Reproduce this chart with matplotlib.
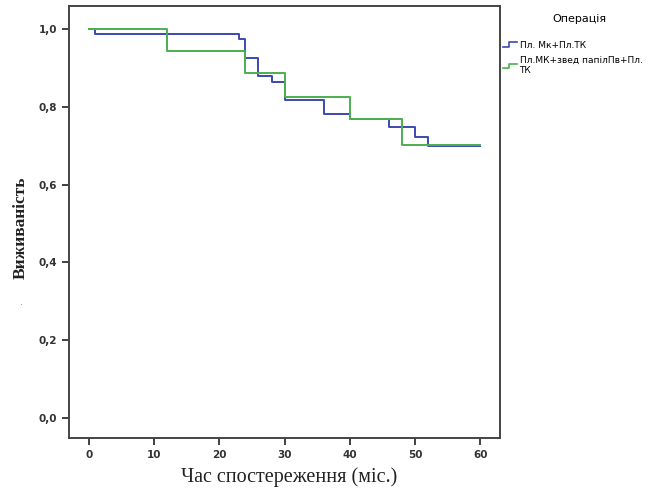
import numpy as np
import matplotlib.pyplot as plt
from matplotlib.ticker import FuncFormatter
from matplotlib.legend_handler import HandlerBase
from matplotlib.lines import Line2D

# survival curves (Kaplan-Meier steps)
blue_t = [0, 1, 23, 24, 26, 28, 30, 36, 40, 46, 50, 52, 60]
blue_s = [1.0, 0.988, 0.974, 0.927, 0.879, 0.865, 0.817, 0.781, 0.769, 0.749, 0.723, 0.699, 0.699]
green_t = [0, 12, 24, 30, 40, 48, 60]
green_s = [1.0, 0.945, 0.888, 0.826, 0.769, 0.702, 0.702]

labels = ['Пл. Мк+Пл.ТК', 'Пл.МК+звед папілПв+Пл.\nТК']
x_ticks = [0, 10, 20, 30, 40, 50, 60]
y_ticks = [0.0, 0.2, 0.4, 0.6, 0.8, 1.0]

BLUE = '#3a4aae'
GREEN = '#4caf50'


class StepHandler(HandlerBase):
    # SPSS-like little step icon in the legend
    def create_artists(self, legend, orig, xd, yd, w, h, fontsize, trans):
        xs = [xd, xd + w * 0.45, xd + w * 0.45, xd + w]
        ys = [yd + h * 0.1, yd + h * 0.1, yd + h * 0.8, yd + h * 0.8]
        ln = Line2D(xs, ys, color=orig.get_color(), lw=1.2, transform=trans)
        return [ln]


fig = plt.figure(figsize=(6.58, 4.92), dpi=100)
ax = fig.add_axes([0.105, 0.110, 0.655, 0.878])

l1, = ax.plot(blue_t, blue_s, drawstyle='steps-post', color=BLUE, lw=1.4, label=labels[0])
l2, = ax.plot(green_t, green_s, drawstyle='steps-post', color=GREEN, lw=1.4, label=labels[1])

ax.set_xlim(-3, 63)
ax.set_ylim(-0.052, 1.06)
ax.set_xticks(x_ticks)
ax.set_yticks(y_ticks)
ax.yaxis.set_major_formatter(FuncFormatter(lambda v, p: f'{v:.1f}'.replace('.', ',')))
ax.tick_params(direction='out', length=5, width=1.3, color='#333333',
               labelsize=7.5, labelcolor='#333333')
for lab in ax.get_xticklabels() + ax.get_yticklabels():
    lab.set_fontweight('bold')
for s in ax.spines.values():
    s.set_linewidth(1.4)
    s.set_color('#444444')

fig.text(0.031, 0.537, 'Виживаність', rotation=90, ha='center', va='center',
         family='Liberation Serif', fontsize=12.5, fontweight='bold', color='#222222')
fig.text(0.031, 0.386, '.', ha='center', va='center', fontsize=6, color='#555555')
fig.text(0.44, 0.030, 'Час спостереження (міс.)', ha='center', va='center',
         family='Liberation Serif', fontsize=14.5, color='#222222')

leg = ax.legend(handles=[l1, l2], handler_map={Line2D: StepHandler()},
                loc='upper left', bbox_to_anchor=(0.998, 0.99), frameon=False,
                title='Операція', fontsize=6.5, title_fontsize=8,
                handlelength=1.6, handletextpad=0.25, borderaxespad=0,
                labelspacing=0.7)
leg._legend_box.align = 'left'
leg._legend_box.sep = 12
leg.get_title().set_position((50, 0))

fig.savefig('out.png', dpi=100)
